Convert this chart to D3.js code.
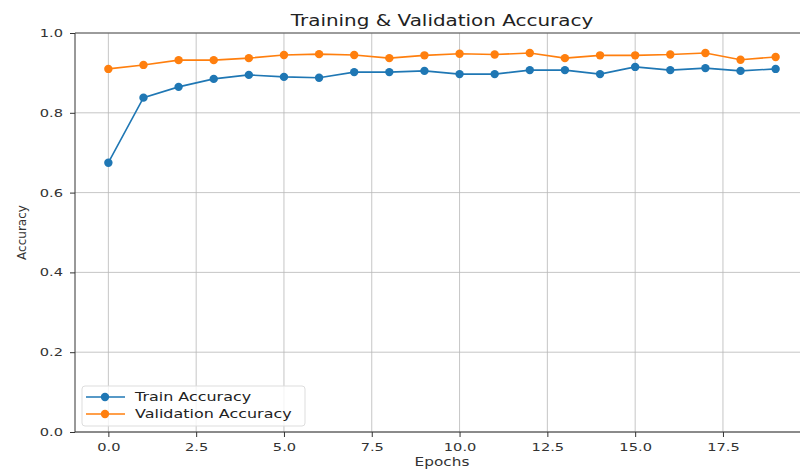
<!DOCTYPE html>
<html><head><meta charset="utf-8">
<script src="https://cdn.jsdelivr.net/npm/d3@7"></script>
<style>body{margin:0;background:#fff}svg{display:block}text{font-family:"DejaVu Sans",sans-serif}</style>
</head><body><svg id="c" width="800" height="473"></svg>
<script>
const epochs = d3.range(20);
const trainAcc = [0.675,0.838,0.865,0.885,0.895,0.890,0.888,0.902,0.902,0.905,0.897,0.897,0.907,0.907,0.897,0.915,0.907,0.912,0.905,0.910];
const valAcc   = [0.910,0.920,0.932,0.932,0.937,0.945,0.947,0.945,0.937,0.944,0.948,0.946,0.950,0.937,0.944,0.944,0.946,0.950,0.933,0.940];
const xTicks = [0,2.5,5,7.5,10,12.5,15,17.5];
const yTicks = [0,0.2,0.4,0.6,0.8,1.0];
const seriesNames = ["Train Accuracy","Validation Accuracy"];
const colors = ["#1f77b4","#ff7f0e"];

const S = 1.33; // horizontal text stretch seen in the reference
const stretch = (ax)=>`translate(${ax},0) scale(${S},1) translate(${-ax},0)`;

const svg = d3.select("#c");
const L=75, R=809, T=33, B=432;
const x = d3.scaleLinear().domain([-0.95,19.95]).range([L,R]);
const y = d3.scaleLinear().domain([0,1]).range([B,T]);

// grid
svg.append("g").selectAll("line").data(xTicks).join("line")
  .attr("x1",d=>x(d)).attr("x2",d=>x(d)).attr("y1",T).attr("y2",B)
  .attr("stroke","#b8b8b8").attr("stroke-width",0.8);
svg.append("g").selectAll("line").data(yTicks).join("line")
  .attr("x1",L).attr("x2",R).attr("y1",d=>y(d)).attr("y2",d=>y(d))
  .attr("stroke","#b8b8b8").attr("stroke-width",0.8);

// axes
const xa = svg.append("g").attr("transform",`translate(0,${B})`)
  .call(d3.axisBottom(x).tickValues(xTicks).tickFormat(d3.format(".1f")).tickSize(5).tickPadding(6));
const ya = svg.append("g").attr("transform",`translate(${L},0)`)
  .call(d3.axisLeft(y).tickValues(yTicks).tickFormat(d3.format(".1f")).tickSize(5).tickPadding(7));
[xa,ya].forEach(a=>{
  a.select(".domain").remove();
  a.selectAll("line").attr("stroke","#333");
  a.selectAll("text").attr("font-size",11).attr("fill","#333");
});
xa.selectAll("text").attr("transform",stretch(0));
ya.selectAll("text").attr("transform",stretch(-12));
// spines
svg.append("line").attr("x1",L).attr("x2",L).attr("y1",T).attr("y2",B).attr("stroke","#333").attr("stroke-width",1);
svg.append("line").attr("x1",L).attr("x2",R).attr("y1",B).attr("y2",B).attr("stroke","#333").attr("stroke-width",1);
svg.append("line").attr("x1",L).attr("x2",R).attr("y1",T).attr("y2",T).attr("stroke","#555").attr("stroke-width",1);

// series
[trainAcc,valAcc].forEach((vals,i)=>{
  const data = epochs.map((e,j)=>[e,vals[j]]);
  svg.append("path").datum(data)
    .attr("d",d3.line().x(d=>x(d[0])).y(d=>y(d[1])))
    .attr("fill","none").attr("stroke",colors[i]).attr("stroke-width",1.6);
  svg.append("g").selectAll("circle").data(data).join("circle")
    .attr("cx",d=>x(d[0])).attr("cy",d=>y(d[1])).attr("r",4.2).attr("fill",colors[i]);
});

// title and labels
const cx = (L+R)/2;
svg.append("text").attr("x",cx).attr("y",26).attr("text-anchor","middle")
  .attr("transform",stretch(cx))
  .attr("font-size",15).attr("fill","#222").text("Training & Validation Accuracy");
svg.append("text").attr("x",cx).attr("y",466).attr("text-anchor","middle")
  .attr("transform",stretch(cx))
  .attr("font-size",11.5).attr("fill","#333").text("Epochs");
svg.append("text").attr("transform",`translate(26,${(T+B)/2}) rotate(-90)`).attr("text-anchor","middle")
  .attr("font-size",12).attr("fill","#333").text("Accuracy");

// legend
const lg = svg.append("g");
lg.append("rect").attr("x",82).attr("y",386).attr("width",223).attr("height",40).attr("rx",3)
  .attr("fill","#fff").attr("fill-opacity",0.8).attr("stroke","#ddd");
seriesNames.forEach((n,i)=>{
  const yy = 397+i*17;
  lg.append("line").attr("x1",86).attr("x2",125).attr("y1",yy).attr("y2",yy).attr("stroke",colors[i]).attr("stroke-width",1.6);
  lg.append("circle").attr("cx",105).attr("cy",yy).attr("r",4.2).attr("fill",colors[i]);
  lg.append("text").attr("x",135).attr("y",yy+4.5).attr("font-size",12).attr("fill","#222")
    .attr("transform",stretch(135)).text(n);
});
</script></body></html>
